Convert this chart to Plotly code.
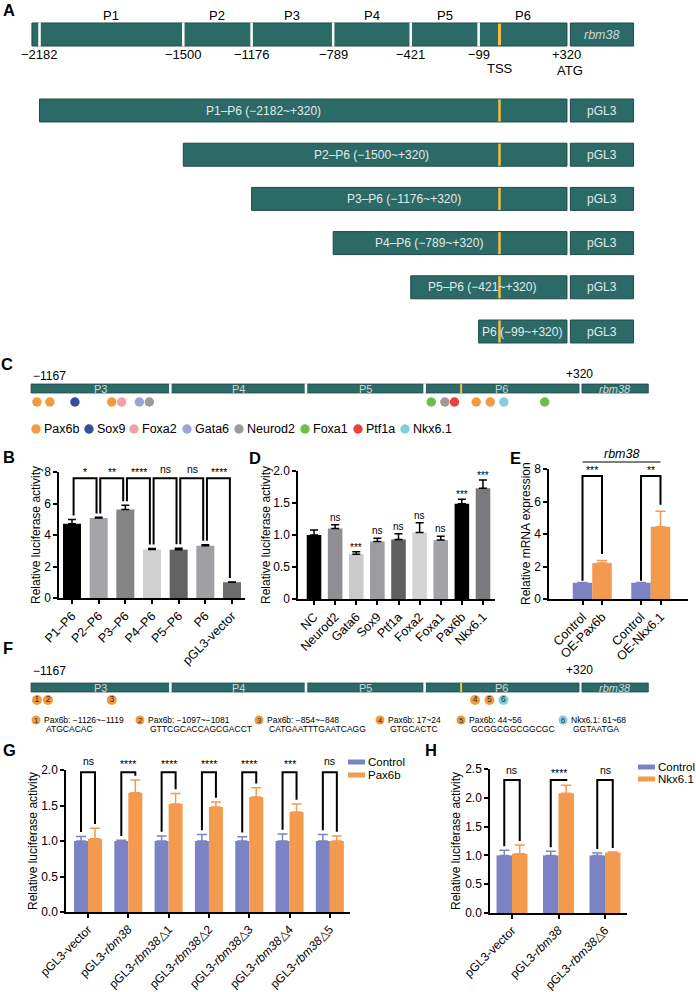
import plotly.graph_objects as go

W, H = 696, 992
FONT = "Liberation Sans, Arial, sans-serif"
TEAL = "#2b6a66"
TEAL_EDGE = "#1f4a48"
GOLD = "#f0bf45"
LIGHT = "#e2ebea"
SEG_TXT = "#cdd8d7"
BLUE = "#7b83c5"
ORANGE = "#f49a4e"

# ------------------------------------------------------------------ data
# Panel A
promoter_bounds = [-2182, -1500, -1176, -789, -421, -99, 320]
promoter_names = ["P1", "P2", "P3", "P4", "P5", "P6"]
promoter_drawn_start = -2218
tss_pos = 0
gene_box = [336, 636]
construct_names = ["P1–P6 (−2182~+320)", "P2–P6 (−1500~+320)", "P3–P6 (−1176~+320)",
                   "P4–P6 (−789~+320)", "P5–P6 (−421~+320)", "P6 (−99~+320)"]
construct_starts = [-2182, -1500, -1176, -789, -421, -99]
construct_end = 320

# Panel C
c_bounds = [-1167, -789, -421, -99, 320]
c_names = ["P3", "P4", "P5", "P6"]
c_gene_box = [328, 508]
tf_names = ["Pax6b", "Sox9", "Foxa2", "Gata6", "Neurod2", "Foxa1", "Ptf1a", "Nkx6.1"]
c_site_pos = [-1151, -1116, -1048, -948, -921, -873, -846, -81, -44, -18, 41, 79, 116, 227]
c_site_tf = ["Pax6b", "Pax6b", "Sox9", "Pax6b", "Foxa2", "Gata6", "Neurod2",
             "Foxa1", "Neurod2", "Ptf1a", "Pax6b", "Pax6b", "Nkx6.1", "Foxa1"]

# Panel F
f_site_num = ["1", "2", "3", "4", "5", "6"]
f_site_pos = [-1151, -1121, -948, 38, 77, 115]
f_site_tf = ["Pax6b", "Pax6b", "Pax6b", "Pax6b", "Pax6b", "Nkx6.1"]
f_site_range = ["−1126~−1119", "−1097~−1081", "−854~−848", "17~24", "44~56", "61~68"]
f_site_seq = ["ATGCACAC", "GTTCGCACCAGCGACCT", "CATGAATTTGAATCAGG", "GTGCACTC",
              "GCGGCGGCGGCGC", "GGTAATGA"]

# Panel B
b_labels = ["P1–P6", "P2–P6", "P3–P6", "P4–P6", "P5–P6", "P6", "pGL3-vector"]
b_values = [4.72, 5.08, 5.62, 3.08, 3.07, 3.32, 1.0]
b_errors = [0.27, 0.04, 0.27, 0.06, 0.09, 0.06, 0.02]
b_sig = ["*", "**", "****", "ns", "ns", "****"]

# Panel D
d_labels = ["NC", "Neurod2", "Gata6", "Sox9", "Ptf1a", "Foxa2", "Foxa1", "Pax6b", "Nkx6.1"]
d_values = [1.0, 1.1, 0.7, 0.9, 0.93, 1.04, 0.92, 1.49, 1.73]
d_errors = [0.08, 0.06, 0.04, 0.05, 0.09, 0.15, 0.06, 0.07, 0.13]
d_sig = ["", "ns", "***", "ns", "ns", "ns", "ns", "***", "***"]

# Panel E
e_ctrl_labels = ["Control", "Control"]
e_oe_labels = ["OE-Pax6b", "OE-Nkx6.1"]
e_ctrl = [1.0, 1.0]
e_ctrl_err = [0.02, 0.02]
e_oe = [2.22, 4.45]
e_oe_err = [0.15, 0.95]
e_sig = ["***", "**"]

# Panel G
g_labels = ["pGL3-vector", "pGL3-<i>rbm38</i>", "pGL3-<i>rbm38</i>△1", "pGL3-<i>rbm38</i>△2",
            "pGL3-<i>rbm38</i>△3", "pGL3-<i>rbm38</i>△4", "pGL3-<i>rbm38</i>△5"]
g_ctrl = [1.0, 1.0, 1.0, 1.0, 1.0, 1.0, 1.0]
g_ctrl_err = [0.065, 0.01, 0.07, 0.09, 0.06, 0.1, 0.09]
g_pax = [1.03, 1.68, 1.52, 1.48, 1.62, 1.41, 1.0]
g_pax_err = [0.15, 0.18, 0.15, 0.07, 0.13, 0.11, 0.07]
g_sig = ["ns", "****", "****", "****", "****", "***", "ns"]

# Panel H
h_labels = ["pGL3-vector", "pGL3-<i>rbm38</i>", "pGL3-<i>rbm38</i>△6"]
h_ctrl = [1.0, 1.0, 1.0]
h_ctrl_err = [0.09, 0.07, 0.04]
h_nkx = [1.03, 2.08, 1.05]
h_nkx_err = [0.15, 0.14, 0.01]
h_sig = ["ns", "****", "ns"]

# ------------------------------------------------------------------ styles
tf_colors = {"Pax6b": "#f39a3f", "Sox9": "#2f4f9f", "Foxa2": "#f3a0a8", "Gata6": "#9ea3d6",
             "Neurod2": "#9b9b9b", "Foxa1": "#6cbf4b", "Ptf1a": "#e8413e", "Nkx6.1": "#80d0dc"}
b_colors = ["#000000", "#a4a4a8", "#858587", "#d0d0d0", "#636364", "#a0a0a4", "#6c6c6d"]
d_colors = ["#000000", "#8f8f93", "#cbcbcb", "#9b9ba0", "#5f5f60", "#d4d4d4", "#a3a3a7",
            "#000000", "#7a7a7e"]


def fx(p):
    return p / W


def fy(p):
    return 1 - p / H


def xdom(a, b):
    return [a / W, b / W]


def ydom(top, bot):
    return [1 - bot / H, 1 - top / H]


annotations = []
shapes = []


def text(t, x, y, size=12, color="black", xanchor="center", yanchor="middle",
         xref="paper", yref="paper", angle=0, yshift=0):
    annotations.append(dict(text=t, x=x, y=y, xref=xref, yref=yref, showarrow=False,
                            xanchor=xanchor, yanchor=yanchor, textangle=angle, yshift=yshift,
                            font=dict(size=size, color=color, family=FONT)))


def sig_shift(s):
    # asterisks sit high in the font; lower them to the "ns" line
    return -3 if "*" in s else 0


fig = go.Figure()

# ------------------------------------------------------------------ Panel A
A0, AK = 499.5, 0.2108
xA_range = [(0 - A0) / AK, (W - A0) / AK]

fig.add_trace(go.Bar(orientation="h", y=[0], base=[promoter_drawn_start],
                     x=[promoter_bounds[-1] - promoter_drawn_start], width=1,
                     marker=dict(color=TEAL, line=dict(color=TEAL_EDGE, width=1)),
                     xaxis="x", yaxis="y"))
fig.add_trace(go.Bar(orientation="h", y=[0], base=[gene_box[0]], x=[gene_box[1] - gene_box[0]],
                     width=1, marker=dict(color=TEAL, line=dict(color=TEAL_EDGE, width=1)),
                     xaxis="x", yaxis="y"))
wx, wy = [], []
for b in promoter_bounds[:-1]:
    wx += [b, b, None]
    wy += [-0.52, 0.52, None]
fig.add_trace(go.Scatter(x=wx, y=wy, mode="lines", line=dict(color="white", width=2.5),
                         xaxis="x", yaxis="y"))
fig.add_trace(go.Scatter(x=[tss_pos, tss_pos], y=[-0.47, 0.47], mode="lines",
                         line=dict(color=GOLD, width=3), xaxis="x", yaxis="y"))

for i, name in enumerate(promoter_names):
    mid = (promoter_bounds[i] + promoter_bounds[i + 1]) / 2
    text(name, mid, fy(16), size=13, xref="x")
for b in promoter_bounds:
    lab = ("+" if b > 0 else "−") + str(abs(b))
    text(lab, b, fy(54), size=13, xref="x")
text("TSS", tss_pos, fy(68), size=13, xref="x")
text("ATG", construct_end, fy(70), size=13, xref="x", xanchor="left")
annotations[-1]["xshift"] = -12
text("<i>rbm38</i>", sum(gene_box) / 2, fy(34.5), size=12.5, color=SEG_TXT, xref="x")

# constructs
rows = list(range(len(construct_starts)))
fig.add_trace(go.Bar(orientation="h", y=rows, base=construct_starts,
                     x=[construct_end - s for s in construct_starts], width=0.52,
                     marker=dict(color=TEAL, line=dict(color=TEAL_EDGE, width=1)),
                     xaxis="x2", yaxis="y2"))
fig.add_trace(go.Bar(orientation="h", y=rows, base=[gene_box[0]] * len(rows),
                     x=[gene_box[1] - gene_box[0]] * len(rows), width=0.52,
                     marker=dict(color=TEAL, line=dict(color=TEAL_EDGE, width=1)),
                     xaxis="x2", yaxis="y2"))
tx, ty = [], []
for r in rows:
    tx += [tss_pos, tss_pos, None]
    ty += [r - 0.25, r + 0.25, None]
fig.add_trace(go.Scatter(x=tx, y=ty, mode="lines", line=dict(color=GOLD, width=2.5),
                         xaxis="x2", yaxis="y2"))
construct_label_px = [263, 371, 404, 429, 482, 522]
for r, name in enumerate(construct_names):
    text(name, fx(construct_label_px[r]), r, size=12, color=LIGHT, yref="y2")
    text("pGL3", sum(gene_box) / 2, r, size=12, color=LIGHT, xref="x2", yref="y2")

# ------------------------------------------------------------------ Panels C and F (maps)
C0, CK = 461.1, 0.3685
xC_range = [(0 - C0) / CK, (W - C0) / CK]


def small_map(xa, ya, width):
    fig.add_trace(go.Bar(orientation="h", y=[0], base=[c_bounds[0]],
                         x=[c_bounds[-1] - c_bounds[0]], width=width,
                         marker=dict(color=TEAL, line=dict(color=TEAL_EDGE, width=0.8)),
                         xaxis=xa, yaxis=ya))
    fig.add_trace(go.Bar(orientation="h", y=[0], base=[c_gene_box[0]],
                         x=[c_gene_box[1] - c_gene_box[0]], width=width,
                         marker=dict(color=TEAL, line=dict(color=TEAL_EDGE, width=0.8)),
                         xaxis=xa, yaxis=ya))
    gx, gy = [], []
    for b in c_bounds[1:-1]:
        gx += [b, b, None]
        gy += [-width / 2 - 0.05, width / 2 + 0.05, None]
    fig.add_trace(go.Scatter(x=gx, y=gy, mode="lines", line=dict(color="white", width=2.5),
                             xaxis=xa, yaxis=ya))
    fig.add_trace(go.Scatter(x=[tss_pos, tss_pos], y=[-width / 2, width / 2], mode="lines",
                             line=dict(color=GOLD, width=2), xaxis=xa, yaxis=ya))
    for i, name in enumerate(c_names):
        mid = (c_bounds[i] + c_bounds[i + 1]) / 2
        text(name, mid, 0, size=11, color=SEG_TXT, xref=xa, yref=ya)
    text("<i>rbm38</i>", sum(c_gene_box) / 2, 0, size=11, color=SEG_TXT, xref=xa, yref=ya)


small_map("x3", "y3", 0.667)
fig.add_trace(go.Scatter(x=c_site_pos, y=[-1] * len(c_site_pos), mode="markers",
                         marker=dict(size=9.5, color=[tf_colors[t] for t in c_site_tf]),
                         cliponaxis=False, xaxis="x3", yaxis="y3"))
text("−1167", c_bounds[0], fy(376), size=12, xref="x3", xanchor="left")
text("+320", c_bounds[-1], fy(374), size=12, xref="x3")

legend_cx = [36, 89, 134, 187, 239, 305, 358, 405]
for cx, tf in zip(legend_cx, tf_names):
    shapes.append(dict(type="circle", xref="paper", yref="paper", x0=fx(cx - 4.7), x1=fx(cx + 4.7),
                       y0=fy(429 + 4.7), y1=fy(429 - 4.7), fillcolor=tf_colors[tf],
                       line=dict(width=0)))
    text(tf, fx(cx + 6), fy(429), size=12.5, xanchor="left")

small_map("x4", "y4", 0.72)
fig.add_trace(go.Scatter(x=f_site_pos, y=[-1] * len(f_site_pos), mode="markers+text",
                         text=f_site_num, textposition="middle center",
                         textfont=dict(size=8.5, color="#2a2a2a", family=FONT),
                         marker=dict(size=10, color=[tf_colors[t] for t in f_site_tf]),
                         cliponaxis=False, xaxis="x4", yaxis="y4"))
text("−1167", c_bounds[0], fy(671), size=12, xref="x4", xanchor="left")
text("+320", c_bounds[-1], fy(670), size=12, xref="x4")

f_item_cx = [36, 140, 259, 380, 461, 563]
for cx, num, tf, rg, seq in zip(f_item_cx, f_site_num, f_site_tf, f_site_range, f_site_seq):
    shapes.append(dict(type="circle", xref="paper", yref="paper", x0=fx(cx - 4.5),
                       x1=fx(cx + 4.5), y0=fy(720 + 4.5), y1=fy(720 - 4.5),
                       fillcolor=tf_colors[tf], line=dict(width=0)))
    text(num, fx(cx), fy(720), size=7.5, color="#2a2a2a")
    text(f"{tf}: {rg}", fx(cx + 6), fy(719.5), size=8.5, xanchor="left")
    text(seq, fx(cx + 8), fy(729), size=8.5, xanchor="left")

# ------------------------------------------------------------------ bar chart helpers
ydefs = {
    "y5": ((472, 598), (0, 8)),
    "y6": ((471, 599), (0, 2)),
    "y7": ((469, 599), (0, 8)),
    "y8": ((770, 912), (0, 2)),
    "y9": ((769, 913), (0, 2.5)),
}


def ypaper(ax, v):
    (top, bot), (r0, r1) = ydefs[ax]
    p = bot - (v - r0) / (r1 - r0) * (bot - top)
    return fy(p)


def err(arr, color, width=4):
    return dict(type="data", array=arr, arrayminus=[0] * len(arr), symmetric=False,
                color=color, thickness=1.5, width=width)


def bracket_trace(xa, ya, pairs):
    bx, by = [], []
    for (x1, y1, x2, y2, top) in pairs:
        bx += [x1, x1, x2, x2, None]
        by += [y1, top, top, y2, None]
    fig.add_trace(go.Scatter(x=bx, y=by, mode="lines", line=dict(color="black", width=2),
                             xaxis=xa, yaxis=ya))


# Panel B
bx_pos = list(range(len(b_labels)))
fig.add_trace(go.Bar(x=bx_pos, y=b_values, width=0.675, marker=dict(color=b_colors, line=dict(width=0)),
                     error_y=err(b_errors, "black"), xaxis="x5", yaxis="y5"))
b_tops = [v + e + 0.25 for v, e in zip(b_values, b_errors)]
bracket_trace("x5", "y5", [(i + 0.06, b_tops[i], i + 1 - 0.08, b_tops[i + 1], 7.6)
                           for i in range(len(b_sig))])
for i, s in enumerate(b_sig):
    text(s, i + 0.5, ypaper("y5", 8.2), size=10.5, xref="x5", yshift=sig_shift(s))

# Panel D
dx_pos = list(range(len(d_labels)))
fig.add_trace(go.Bar(x=dx_pos, y=d_values, width=0.69, marker=dict(color=d_colors, line=dict(width=0)),
                     error_y=err(d_errors, "black"), xaxis="x6", yaxis="y6"))
for i, s in enumerate(d_sig):
    if s:
        text(s, i, ypaper("y6", d_values[i] + d_errors[i]), size=10, xref="x6", yanchor="bottom",
             yshift=sig_shift(s))

# Panel E
e_x_ctrl = [3 * g for g in range(len(e_ctrl))]
e_x_oe = [3 * g + 1 for g in range(len(e_oe))]
fig.add_trace(go.Bar(x=e_x_ctrl, y=e_ctrl, width=1, marker=dict(color=BLUE, line=dict(width=0)),
                     error_y=err(e_ctrl_err, BLUE, 5), xaxis="x7", yaxis="y7"))
fig.add_trace(go.Bar(x=e_x_oe, y=e_oe, width=1, marker=dict(color=ORANGE, line=dict(width=0)),
                     error_y=err(e_oe_err, ORANGE, 5), xaxis="x7", yaxis="y7"))
bracket_trace("x7", "y7", [(xc, c + ce + 0.1, xo, o + oe + 0.4, 7.57)
                           for xc, c, ce, xo, o, oe in zip(e_x_ctrl, e_ctrl, e_ctrl_err,
                                                           e_x_oe, e_oe, e_oe_err)])
for xc, xo, s in zip(e_x_ctrl, e_x_oe, e_sig):
    text(s, (xc + xo) / 2, ypaper("y7", 8.15), size=10.5, xref="x7", yshift=sig_shift(s))
shapes.append(dict(type="line", xref="x7", yref="paper", x0=e_x_ctrl[0], x1=e_x_oe[-1],
                   y0=fy(462), y1=fy(462), line=dict(color="black", width=1.2)))
text("<i>rbm38</i>", (e_x_ctrl[0] + e_x_oe[-1]) / 2, fy(454), size=12.5, xref="x7")

# Panel G
gw = 0.3475
gx_pos = list(range(len(g_labels)))
fig.add_trace(go.Bar(x=gx_pos, y=g_ctrl, width=gw, offset=-gw,
                     marker=dict(color=BLUE, line=dict(width=0)),
                     error_y=err(g_ctrl_err, BLUE, 5), xaxis="x8", yaxis="y8"))
fig.add_trace(go.Bar(x=gx_pos, y=g_pax, width=gw, offset=0,
                     marker=dict(color=ORANGE, line=dict(width=0)),
                     error_y=err(g_pax_err, ORANGE, 5), xaxis="x8", yaxis="y8"))
bracket_trace("x8", "y8", [(i - gw / 2, g_ctrl[i] + g_ctrl_err[i] + 0.06,
                            i + gw / 2, g_pax[i] + g_pax_err[i] + 0.06, 1.97) for i in gx_pos])
for i, s in enumerate(g_sig):
    text(s, i, ypaper("y8", 2.12), size=10.5, xref="x8", yshift=sig_shift(s))

# Panel H
hw = 0.333
hx_pos = list(range(len(h_labels)))
fig.add_trace(go.Bar(x=hx_pos, y=h_ctrl, width=hw, offset=-hw,
                     marker=dict(color=BLUE, line=dict(width=0)),
                     error_y=err(h_ctrl_err, BLUE, 5), xaxis="x9", yaxis="y9"))
fig.add_trace(go.Bar(x=hx_pos, y=h_nkx, width=hw, offset=0,
                     marker=dict(color=ORANGE, line=dict(width=0)),
                     error_y=err(h_nkx_err, ORANGE, 5), xaxis="x9", yaxis="y9"))
bracket_trace("x9", "y9", [(i - hw / 2, h_ctrl[i] + h_ctrl_err[i] + 0.07,
                            i + hw / 2, h_nkx[i] + h_nkx_err[i] + 0.07, 2.31) for i in hx_pos])
for i, s in enumerate(h_sig):
    text(s, i, ypaper("y9", 2.49), size=10.5, xref="x9", yshift=sig_shift(s))

# legends G / H
for (sx, sy, tcolor, lab) in [(348, 762, BLUE, "Control"), (348, 775, ORANGE, "Pax6b"),
                              (638, 767, BLUE, "Control"), (638, 779, ORANGE, "Nkx6.1")]:
    shapes.append(dict(type="rect", xref="paper", yref="paper", x0=fx(sx), x1=fx(sx + 17),
                       y0=fy(sy + 2.5), y1=fy(sy - 2.5), fillcolor=tcolor, line=dict(width=0)))
    text(lab, fx(sx + 18), fy(sy), size=11.5, xanchor="left")

# panel letters
for lab, px, py in [("A", 9, 10), ("C", 7, 364), ("B", 9, 457), ("D", 255, 458), ("E", 515, 458),
                    ("F", 8, 648), ("G", 9, 750), ("H", 431, 750)]:
    text(f"<b>{lab}</b>", fx(px), fy(py), size=16.5)

# y axis titles
for t, px, py in [("Relative luciferase activity", 36, 535),
                  ("Relative luciferase activity", 266, 535),
                  ("Relative mRNA expression", 526, 534),
                  ("Relative luciferase activity", 33, 841),
                  ("Relative luciferase activity", 456, 841)]:
    text(t, fx(px), fy(py), size=12, angle=-90)

# ------------------------------------------------------------------ axes
hidden = dict(visible=False, showgrid=False, zeroline=False, fixedrange=True, automargin=False)


def xax(dom, rng, anchor):
    d = dict(hidden)
    d.update(domain=dom, range=rng, anchor=anchor)
    return d


def bar_x(dom, rng, anchor, tickvals, ticktext, size=12.5):
    return dict(domain=dom, range=rng, anchor=anchor, showline=True, linecolor="black",
                linewidth=1.5, ticks="outside", ticklen=4, tickwidth=1.5, tickcolor="black",
                tickvals=tickvals, ticktext=ticktext, tickangle=-45,
                tickfont=dict(size=size, color="black", family=FONT), showgrid=False,
                zeroline=False, fixedrange=True, automargin=False)


def bar_y(ax, anchor, tickvals, ticktext):
    (top, bot), rng = ydefs[ax]
    return dict(domain=ydom(top, bot), range=list(rng), anchor=anchor, showline=True,
                linecolor="black", linewidth=1.5, ticks="outside", ticklen=4, tickwidth=1.5,
                tickcolor="black", tickvals=tickvals, ticktext=ticktext,
                tickfont=dict(size=12, color="black", family=FONT), showgrid=False,
                zeroline=False, fixedrange=True, automargin=False)


layout = dict(
    width=W, height=H, margin=dict(l=0, r=0, t=0, b=0), autosize=False, template="none",
    paper_bgcolor="white", plot_bgcolor="rgba(0,0,0,0)", showlegend=False,
    barmode="overlay", font=dict(family=FONT, color="black"),
    annotations=annotations, shapes=shapes, hovermode=False,
    xaxis=xax([0, 1], xA_range, "y"),
    yaxis=xax(ydom(20, 49), [-0.6304, 0.6304], "x"),
    xaxis2=xax([0, 1], xA_range, "y2"),
    yaxis2=xax(ydom(92, 352), [5.4638, -0.4186], "x2"),
    xaxis3=xax([0, 1], xC_range, "y3"),
    yaxis3=xax(ydom(375, 415), [-1.963, 1.0], "x3"),
    xaxis4=xax([0, 1], xC_range, "y4"),
    yaxis4=xax(ydom(675, 712), [-1.96, 1.0], "x4"),
    xaxis5=bar_x(xdom(59, 245), [-0.4875, 6.4875], "y5", bx_pos, b_labels),
    yaxis5=bar_y("y5", "x5", [0, 2, 4, 6, 8], ["0", "2", "4", "6", "8"]),
    xaxis6=bar_x(xdom(298, 495), [-0.758, 8.569], "y6", dx_pos, d_labels),
    yaxis6=bar_y("y6", "x6", [0, 0.5, 1, 1.5, 2], ["0", "0.5", "1.0", "1.5", "2.0"]),
    xaxis7=bar_x(xdom(549, 688), [-1.718, 5.41], "y7",
                 sorted(e_x_ctrl + e_x_oe),
                 [lab for pair in zip(e_ctrl_labels, e_oe_labels) for lab in pair]),
    yaxis7=bar_y("y7", "x7", [0, 2, 4, 6, 8], ["0", "2", "4", "6", "8"]),
    xaxis8=bar_x(xdom(66, 350), [-0.546, 6.5], "y8", gx_pos, g_labels, 12),
    yaxis8=bar_y("y8", "x8", [0, 0.5, 1, 1.5, 2], ["0.0", "0.5", "1.0", "1.5", "2.0"]),
    xaxis9=bar_x(xdom(490, 627), [-0.473, 2.473], "y9", hx_pos, h_labels, 12),
    yaxis9=bar_y("y9", "x9", [0, 0.5, 1, 1.5, 2, 2.5],
                 ["0.0", "0.5", "1.0", "1.5", "2.0", "2.5"]),
)
fig.update_layout(**layout)
fig.update_traces(showlegend=False, hoverinfo="skip")
fig.write_html("out.html", config={"displayModeBar": False})
